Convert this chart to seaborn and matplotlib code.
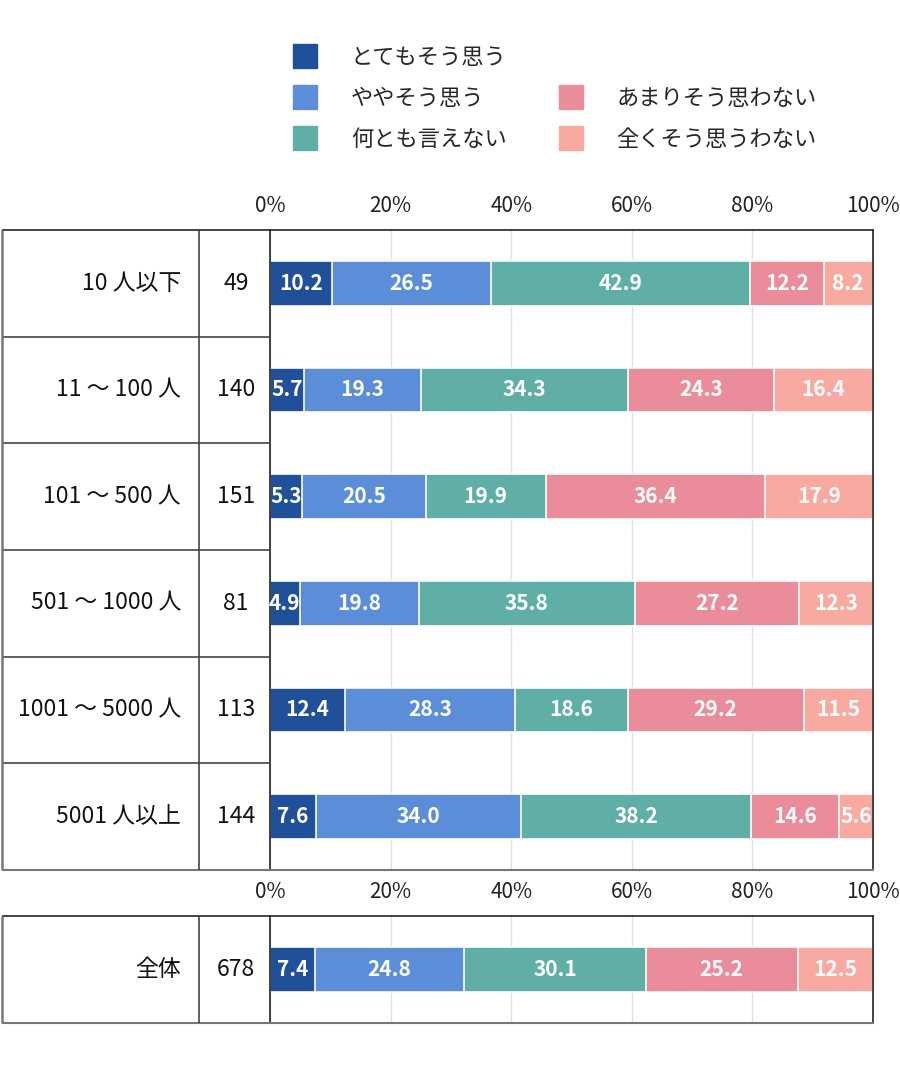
import numpy as np
import matplotlib.pyplot as plt
import seaborn as sns
from matplotlib.lines import Line2D

# データ
groups = ['10 人以下', '11 ～ 100 人', '101 ～ 500 人', '501 ～ 1000 人', '1001 ～ 5000 人', '5001 人以上']
counts = [49, 140, 151, 81, 113, 144]
total_group = ['全体']
total_count = [678]

series_names = ['とてもそう思う', 'ややそう思う', '何とも言えない', 'あまりそう思わない', '全くそう思うわない']
s_totemo = [10.2, 5.7, 5.3, 4.9, 12.4, 7.6]
s_yaya = [26.5, 19.3, 20.5, 19.8, 28.3, 34.0]
s_nantomo = [42.9, 34.3, 19.9, 35.8, 18.6, 38.2]
s_amari = [12.2, 24.3, 36.4, 27.2, 29.2, 14.6]
s_mattaku = [8.2, 16.4, 17.9, 12.3, 11.5, 5.6]
total_values = [7.4, 24.8, 30.1, 25.2, 12.5]

colors = ['#1F5099', '#5B8DD8', '#5FAFA6', '#EA8C9A', '#F8AAA0']
ticks = [0, 20, 40, 60, 80, 100]

sns.set_theme(style='white')
plt.rcParams['font.family'] = ['Noto Sans CJK JP', 'DejaVu Sans']

W, H = 900, 1082
fig = plt.figure(figsize=(W / 100, H / 100), dpi=100)


def fbox(x0, y0, x1, y1):
    # ピクセル座標 -> figure 座標
    return [x0 / W, 1 - y1 / H, (x1 - x0) / W, (y1 - y0) / H]


def draw_block(top, bottom, cats, cnts, values):
    ax = fig.add_axes(fbox(270, top, 873, bottom))
    tab = fig.add_axes(fbox(2, top, 270, bottom))
    n = len(cats)
    cum = np.cumsum(values, axis=0)
    # 積み上げ：合計から逆順に重ねて描く
    for i in reversed(range(len(series_names))):
        sns.barplot(x=cum[i], y=cats, order=cats, color=colors[i], saturation=1,
                    width=0.42, edgecolor='white', linewidth=1.2, orient='h', ax=ax)
    for i in range(len(series_names)):
        for j in range(n):
            v = values[i][j]
            ax.text(cum[i][j] - v / 2, j, f'{v:.1f}', ha='center', va='center',
                    color='white', fontsize=15, fontweight='bold')
    ax.set_xlim(0, 100)
    ax.set_ylim(n - 0.5, -0.5)
    ax.set_xticks(ticks)
    ax.set_xticklabels([f'{t}%' for t in ticks])
    ax.xaxis.tick_top()
    ax.tick_params(axis='x', length=0, labelsize=15, pad=9, colors='#222222')
    ax.tick_params(axis='y', left=False, labelleft=False)
    ax.set_xlabel('')
    ax.set_ylabel('')
    ax.grid(axis='x', color='#e2e2e2', linewidth=1)
    ax.set_axisbelow(True)
    for s in ['top', 'right', 'left']:
        ax.spines[s].set_color('#222222')
        ax.spines[s].set_linewidth(1.2)
    ax.spines['bottom'].set_color('#777777')
    ax.spines['bottom'].set_linewidth(1.5)

    # 左側の表
    tab.set_xlim(0, 268)
    tab.set_ylim(n - 0.5, -0.5)
    tab.axis('off')
    tab.hlines([k + 0.5 for k in range(n - 1)], 0, 268, color='#444444', linewidth=1.2)
    tab.hlines([-0.5], 0, 268, color='#222222', linewidth=1.2, clip_on=False)
    tab.hlines([n - 0.5], 0, 268, color='#777777', linewidth=1.5, clip_on=False)
    tab.vlines([0], -0.5, n - 0.5, color='#777777', linewidth=1.8, clip_on=False)
    tab.vlines([197], -0.5, n - 0.5, color='#444444', linewidth=1.2)
    for j in range(n):
        tab.text(179, j, cats[j], ha='right', va='center', fontsize=16.5, color='#111111')
        tab.text(234, j, str(cnts[j]), ha='center', va='center', fontsize=16.5, color='#111111')
    return ax


main_values = [s_totemo, s_yaya, s_nantomo, s_amari, s_mattaku]
draw_block(230, 870, groups, counts, main_values)
draw_block(916, 1023, total_group, total_count, [[v] for v in total_values])

# 凡例（右列は1段下げる）
handles = [Line2D([], [], marker='s', markersize=17, linestyle='none', color=c) for c in colors]
blank = Line2D([], [], linestyle='none')
leg_handles = handles[:3] + [blank] + handles[3:]
leg_labels = series_names[:3] + [''] + series_names[3:]
fig.legend(leg_handles, leg_labels, loc='upper left', bbox_to_anchor=(272 / W, 1 - 26 / H),
           ncol=2, frameon=False, fontsize=16, handlelength=1.2, handletextpad=1.45,
           columnspacing=2.3, labelspacing=0.8)

fig.savefig('out.png', dpi=100)
